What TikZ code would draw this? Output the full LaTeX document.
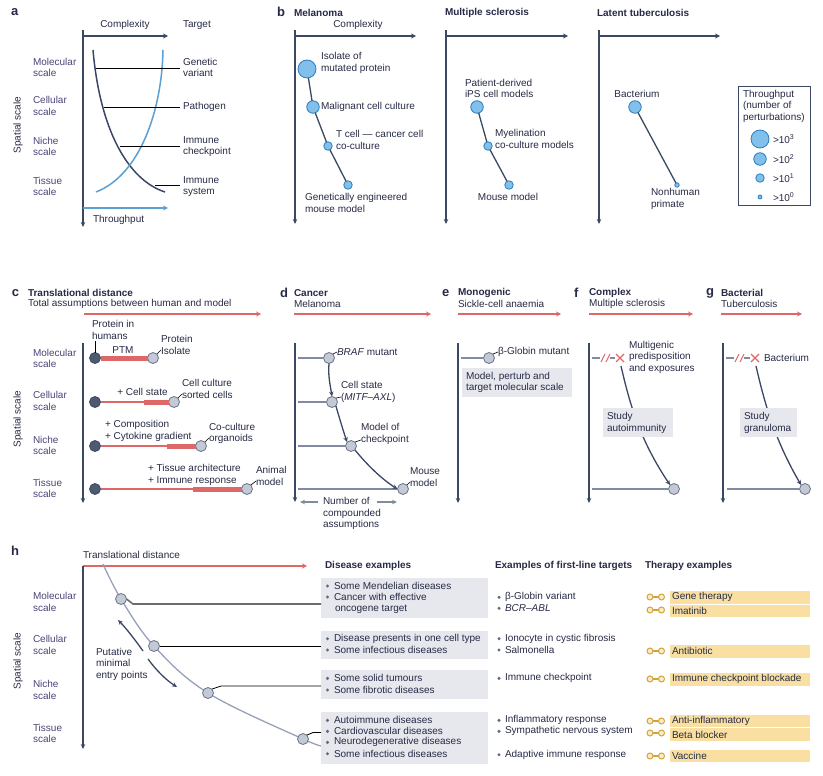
\documentclass[tikz,border=0pt]{standalone}
\usepackage{fontspec}
\setmainfont{Liberation Sans}
\usetikzlibrary{arrows.meta}
\definecolor{axc}{RGB}{58,72,100}
\definecolor{txc}{RGB}{38,42,68}
\definecolor{scc}{RGB}{78,66,120}
\definecolor{bluc}{RGB}{90,160,210}
\definecolor{bfill}{RGB}{130,192,236}
\definecolor{bdraw}{RGB}{45,125,190}
\definecolor{redc}{RGB}{222,104,104}
\definecolor{gfill}{RGB}{196,201,214}
\definecolor{gdraw}{RGB}{105,114,135}
\definecolor{dfill}{RGB}{78,90,112}
\definecolor{glc}{RGB}{128,138,160}
\definecolor{boxc}{RGB}{231,232,238}
\definecolor{yelc}{RGB}{249,224,162}
\definecolor{goldc}{RGB}{210,165,60}
\definecolor{hcur}{RGB}{150,160,185}
\definecolor{bulc}{RGB}{100,105,125}
\begin{document}
\begin{tikzpicture}[x=1pt,y=-1pt,
  every node/.style={inner sep=0pt,outer sep=0pt,text=txc,font=\fontsize{10}{11.5}\selectfont},
  L/.style={anchor=west,align=left},
  C/.style={anchor=center,align=center},
  B/.style={font=\fontsize{10}{11.5}\selectfont\bfseries},
  P/.style={font=\fontsize{13}{13}\selectfont\bfseries,anchor=west},
  S/.style={L,text=scc},
  vaxis/.style={draw=axc,line width=2.2pt,-{Stealth[length=5pt,width=4.5pt]}},
  harr/.style={draw=axc,line width=1.8pt,-{Stealth[length=5pt,width=5pt]}},
  rarr/.style={draw=redc,line width=1.5pt,-{Stealth[length=5pt,width=5pt]}},
  bdot/.style={circle,fill=bfill,draw=bdraw,line width=0.8pt},
  gdot/.style={circle,fill=gfill,draw=gdraw,line width=0.8pt,minimum size=11pt},
  ddot/.style={circle,fill=dfill,draw=axc,line width=0.8pt,minimum size=11pt},
  gline/.style={draw=glc,line width=1.6pt},
  darr/.style={draw=axc,line width=1.3pt,-{Stealth[length=5pt,width=4.5pt]}},
  garr/.style={draw=glc,line width=1.3pt,-{Stealth[length=5pt,width=4.5pt]}},
  ldr/.style={draw=black,line width=0.6pt},
  cline/.style={draw=axc,line width=1.3pt},
  thinred/.style={draw=redc,line width=1.3pt},
  thickred/.style={draw=redc,line width=5pt},
  tbox/.style={fill=boxc,draw=none},
  ybox/.style={fill=yelc,draw=none},
  icon/.style={circle,draw=goldc,fill=yelc!60,line width=1pt,minimum size=6pt},
]
\useasboundingbox (0,0) rectangle (823,776);

% ================= Panel a =================
\node[P] (pa) at (11,12) {a};
\draw[vaxis] (83,30) -- (83,227);
\draw[harr] (83,36) -- (168,36);
\draw[harr,draw=bluc] (83,208) -- (168,208);
\node[C] (acx) at (125,25) {Complexity};
\node[L] (atg) at (183,25) {Target};
\node[L] (ath) at (93,220) {Throughput};
\node[S] (am) at (33,67.5) {Molecular\\scale};
\node[S] (ac) at (33,106) {Cellular\\scale};
\node[S] (an) at (33,146.5) {Niche\\scale};
\node[S] (ati) at (33,186.5) {Tissue\\scale};
\node[rotate=90] (asp) at (18,125) {Spatial scale};
\draw[line width=1.5pt,draw=axc] (93,50) .. controls (100,130) and (128,180) .. (165,192);
\draw[line width=1.5pt,draw=bluc] (96,192) .. controls (140,175) and (162,110) .. (163,50);
\node[L] (agv) at (183,67.5) {Genetic\\variant};
\node[L] (apa) at (183,107) {Pathogen};
\node[L] (aic) at (183,146.5) {Immune\\checkpoint};
\node[L] (ais) at (183,186.5) {Immune\\system};
\draw[ldr,line width=0.8pt] (96,68) -- (180,68);
\draw[ldr,line width=0.8pt] (104,107) -- (180,107);
\draw[ldr,line width=0.8pt] (120,146) -- (180,146);
\draw[ldr,line width=0.8pt] (155,185) -- (180,185);

% ================= Panel b =================
\node[P] (pb) at (277,12) {b};
\node[L,B] (bmel) at (294,13) {Melanoma};
\node[C] (bcx) at (358,25) {Complexity};
\draw[vaxis] (295,30) -- (295,224);
\draw[harr] (295,36) -- (416,36);
\node[bdot,minimum size=18pt] (b1) at (307,69) {};
\node[bdot,minimum size=12.5pt] (b2) at (313,107) {};
\node[bdot,minimum size=8.5pt] (b3) at (328,146) {};
\node[bdot,minimum size=8.5pt] (b4) at (348,185) {};
\draw[cline] (b1) -- (b2) -- (b3) -- (b4);
\node[L] (b1t) at (321,63) {Isolate of\\mutated protein};
\node[L] (b2t) at (321,107) {Malignant cell culture};
\node[L] (b3t) at (336,140) {T cell — cancer cell\\co-culture};
\node[L] (b4t) at (305,203) {Genetically engineered\\mouse model};

\node[L,B] (bms) at (445,13) {Multiple sclerosis};
\draw[vaxis] (446,30) -- (446,224);
\draw[harr] (446,36) -- (568,36);
\node[bdot,minimum size=12.5pt] (m1) at (477,107) {};
\node[bdot,minimum size=8.5pt] (m2) at (488,146) {};
\node[bdot,minimum size=8.5pt] (m3) at (509,185) {};
\draw[cline] (m1) -- (m2) -- (m3);
\node[L] (m1t) at (465,88.5) {Patient-derived\\iPS cell models};
\node[L] (m2t) at (495,139) {Myelination\\co-culture models};
\node[C] (m3t) at (508,197) {Mouse model};

\node[L,B] (btb) at (597,13) {Latent tuberculosis};
\draw[vaxis] (599,30) -- (599,224);
\draw[harr] (599,36) -- (720,36);
\node[bdot,minimum size=12.5pt] (t1) at (635,107) {};
\node[bdot,minimum size=4.5pt] (t2) at (677,185) {};
\draw[cline] (t1) -- (t2);
\node[C] (t1t) at (637,94) {Bacterium};
\node[L] (t2t) at (651,199) {Nonhuman\\primate};

\node[draw=axc,line width=0.9pt,minimum width=72pt,minimum height=119pt,anchor=north west] (leg) at (738,86) {};
\node[L] (legt) at (743,106) {Throughput\\(number of\\perturbations)};
\node[bdot,minimum size=18pt] (l3) at (760,139) {};
\node[bdot,minimum size=12.5pt] (l2) at (760,159) {};
\node[bdot,minimum size=8.5pt] (l1) at (760,178) {};
\node[bdot,minimum size=4pt] (l0) at (760,197) {};
\node[L] (l3t) at (773,139) {>10\textsuperscript{3}};
\node[L] (l2t) at (773,159) {>10\textsuperscript{2}};
\node[L] (l1t) at (773,178) {>10\textsuperscript{1}};
\node[L] (l0t) at (773,197) {>10\textsuperscript{0}};

% ================= Panel c =================
\node[P] (pc) at (12,293) {c};
\node[L,B] (ctd) at (28,293) {Translational distance};
\node[L] (cta) at (28,304) {Total assumptions between human and model};
\draw[rarr] (84,314) -- (261,314);
\draw[vaxis] (83,343) -- (83,503);
\node[S] (cm) at (33,358.5) {Molecular\\scale};
\node[S] (cc) at (33,401) {Cellular\\scale};
\node[S] (cn) at (33,445.5) {Niche\\scale};
\node[S] (cti) at (33,488.5) {Tissue\\scale};
\node[rotate=90] (csp) at (18,419) {Spatial scale};
% row 1
\node[ddot] (c1a) at (95,358) {};
\node[gdot] (c1b) at (153,358) {};
\draw[thickred] (c1a.east) -- (c1b.west);
\node[C] (c1p) at (123,350.5) {PTM};
\node[L] (c1h) at (92,330) {Protein in\\humans};
\draw[ldr] (c1a.north) -- (95,341);
\node[L] (c1i) at (161,345) {Protein\\Isolate};
\draw[ldr] (c1b.north east) -- (161,350);
% row 2
\node[ddot] (c2a) at (95,402) {};
\node[gdot] (c2b) at (174,402) {};
\draw[thinred] (c2a.east) -- (144,402);
\draw[thickred] (144,402) -- (c2b.west);
\node[C] (c2p) at (142.5,392) {+ Cell state};
\node[L] (c2i) at (182,389) {Cell culture\\sorted cells};
\draw[ldr] (c2b.north east) -- (182,394);
% row 3
\node[ddot] (c3a) at (95,446) {};
\node[gdot] (c3b) at (201,446) {};
\draw[thinred] (c3a.east) -- (167,446);
\draw[thickred] (167,446) -- (c3b.west);
\node[L] (c3p) at (105,431) {+ Composition\\+ Cytokine gradient};
\node[L] (c3i) at (209,433.5) {Co-culture\\organoids};
\draw[ldr] (c3b.north east) -- (209,438);
% row 4
\node[ddot] (c4a) at (95,489) {};
\node[gdot] (c4b) at (247,489) {};
\draw[thinred] (c4a.east) -- (193,489);
\draw[thickred] (193,489) -- (c4b.west);
\node[L] (c4p) at (148,475) {+ Tissue architecture\\+ Immune response};
\node[L] (c4i) at (256,476) {Animal\\model};
\draw[ldr] (c4b.north east) -- (256,481);

% ================= Panel d =================
\node[P] (pd) at (280,293) {d};
\node[L,B] (dca) at (294,293) {Cancer};
\node[L] (dme) at (294,304) {Melanoma};
\draw[rarr] (294,314) -- (431,314);
\draw[vaxis] (295,343) -- (295,502);
\node[gdot] (d1) at (329,358) {};
\node[gdot] (d2) at (332,402) {};
\node[gdot] (d3) at (351,446) {};
\node[gdot] (d4) at (403,489) {};
\draw[gline] (298,358) -- (d1.west);
\draw[gline] (298,402) -- (d2.west);
\draw[gline] (298,446) -- (d3.west);
\draw[gline] (298,489) -- (d4.west);
\node[L] (d1t) at (337,352) {\textit{BRAF} mutant};
\node[L] (d2t) at (341,392) {Cell state\\(\textit{MITF–AXL})};
\node[L] (d3t) at (361,434) {Model of\\checkpoint};
\node[L] (d4t) at (410,477) {Mouse\\model};
\draw[ldr] (d1.north east) -- (337,352);
\draw[ldr] (d2.north east) -- (341,397);
\draw[ldr] (d3.north east) -- (361,440);
\draw[ldr] (d4.north east) -- (410,482);
\draw[darr] (d1.south) .. controls (328,376) and (330,384) .. (d2.north);
\draw[darr] (d2.south east) .. controls (340,420) and (343,430) .. (d3.north west);
\draw[darr] (d3.south east) .. controls (368,466) and (383,480) .. (d4.west);
\node[L] (dnum) at (323,513.5) {Number of\\compounded\\assumptions};
\coordinate (dl0) at (318,502);
\coordinate (dl1) at (300,502);
\coordinate (dr0) at (377,502);
\coordinate (dr1) at (397,502);
\draw[garr] (dl0) -- (dl1);
\draw[garr] (dr0) -- (dr1);

% ================= Panel e =================
\node[P] (pe) at (442,293) {e};
\node[L,B] (emo) at (458,293) {Monogenic};
\node[L] (esc) at (458,304) {Sickle-cell anaemia};
\draw[rarr] (458,314) -- (561,314);
\draw[vaxis] (458,343) -- (458,503);
\node[gdot] (e1) at (489,358) {};
\draw[gline] (461,358) -- (e1.west);
\node[L] (e1t) at (498,352) {β-Globin mutant};
\draw[ldr] (e1.north east) -- (498,352);
\node[tbox,minimum width=110pt,minimum height=29pt,anchor=north west] (ebox) at (462,368) {};
\node[L] (ebt) at (466,382.5) {Model, perturb and\\target molecular scale};

% ================= Panel f =================
\node[P] (pf) at (574,293) {f};
\node[L,B] (fco) at (589,293) {Complex};
\node[L] (fms) at (589,304) {Multiple sclerosis};
\draw[rarr] (589,314) -- (693,314);
\draw[vaxis] (589,343) -- (589,503);
\draw[gline] (592,358) -- (600,358);
\draw[redc,line width=1.1pt] (601,362) -- (605,354) (606,362) -- (610,354);
\draw[gline] (610,358) -- (615,358);
\draw[redc,line width=1.2pt] (616,354) -- (624,362) (616,362) -- (624,354);
\node[L] (fmt) at (629,357) {Multigenic\\predisposition\\and exposures};
\node[gdot] (f2) at (674,489) {};
\draw[gline] (592,489) -- (f2.west);
\draw[darr] (621,366) .. controls (630,405) and (640,440) .. (f2.north west);
\node[tbox,minimum width=70pt,minimum height=29pt,anchor=north west] (fbox) at (603,408) {};
\node[L] (fbt) at (607,423) {Study\\autoimmunity};

% ================= Panel g =================
\node[P] (pg) at (706,293) {g};
\node[L,B] (gba) at (721,293) {Bacterial};
\node[L] (gtb) at (721,304) {Tuberculosis};
\draw[rarr] (721,314) -- (802,314);
\draw[vaxis] (723,343) -- (723,503);
\draw[gline] (726,358) -- (734,358);
\draw[redc,line width=1.1pt] (735,362) -- (739,354) (740,362) -- (744,354);
\draw[gline] (744,358) -- (750,358);
\draw[redc,line width=1.2pt] (751,354) -- (759,362) (751,362) -- (759,354);
\node[L] (gbt) at (764,358) {Bacterium};
\node[gdot] (g2) at (805,489) {};
\draw[gline] (727,489) -- (g2.west);
\draw[darr] (756,366) .. controls (765,405) and (775,440) .. (g2.north west);
\node[tbox,minimum width=57pt,minimum height=29pt,anchor=north west] (gbox) at (740,408) {};
\node[L] (gbx) at (744,423) {Study\\granuloma};

% ================= Panel h =================
\node[P] (ph) at (11,551) {h};
\node[L] (htd) at (83,554.5) {Translational distance};
\draw[rarr] (83,566) -- (307,566);
\draw[vaxis] (83,566) -- (83,749);
\node[S] (hm) at (33,602) {Molecular\\scale};
\node[S] (hc) at (33,645) {Cellular\\scale};
\node[S] (hn) at (33,690) {Niche\\scale};
\node[S] (hti) at (33,733.5) {Tissue\\scale};
\node[rotate=90] (hsp) at (18,661) {Spatial scale};
\draw[hcur,line width=1.3pt] plot[smooth,tension=0.6] coordinates {(103,564) (121,599) (154,646) (208,693) (303,739) (323,746)};
% boxes
\node[tbox,minimum width=167pt,minimum height=40pt,anchor=north west] (hb1) at (321,578) {};
\node[tbox,minimum width=167pt,minimum height=28pt,anchor=north west] (hb2) at (321,631) {};
\node[tbox,minimum width=167pt,minimum height=29pt,anchor=north west] (hb3) at (321,670) {};
\node[tbox,minimum width=167pt,minimum height=52pt,anchor=north west] (hb4) at (321,712) {};
\node[gdot] (h1) at (121,599) {};
\node[gdot] (h2) at (154,646) {};
\node[gdot] (h3) at (208,693) {};
\node[gdot] (h4) at (303,739) {};
\draw[draw=gray!85!black,line width=1.6pt] (h1.east) -- (133,604) -- (321,604);
\draw[ldr,line width=0.8pt] (h2.east) -- (321,646);
\draw[ldr,line width=0.8pt] (h3.north east) -- (221,686) -- (321,686);
\draw[ldr,line width=0.8pt] (h4.north east) -- (313,732.5) -- (321,732.5);
\node[L] (hpu) at (96,664) {Putative\\minimal\\entry points};
\draw[darr] (143,651) .. controls (136,641) and (126,628) .. (118,620);
\draw[darr] (148,659) .. controls (156,670) and (166,680) .. (177,687);
% headers
\node[L,B] (hh1) at (325,566) {Disease examples};
\node[L,B] (hh2) at (495,566) {Examples of first-line targets};
\node[L,B] (hh3) at (645,566) {Therapy examples};
% disease text
\foreach \yy in {586,597,638.7,650,678.3,690,720.3,731.3,742.3,753.7} {\fill[bulc] (327.5,\yy) circle (1.7pt);}
\node[L] (hd1) at (334,586) {Some Mendelian diseases};
\node[L] (hd2) at (334,597.3) {Cancer with effective};
\node[L] (hd3) at (335,609.3) {oncogene target};
\node[L] (hd4) at (334,638.7) {Disease presents in one cell type};
\node[L] (hd5) at (334,650) {Some infectious diseases};
\node[L] (hd6) at (334,678.3) {Some solid tumours};
\node[L] (hd7) at (334,690) {Some fibrotic diseases};
\node[L] (hd8) at (334,720.3) {Autoimmune diseases};
\node[L] (hd9) at (334,731.3) {Cardiovascular diseases};
\node[L] (hd10) at (334,742.3) {Neurodegenerative diseases};
\node[L] (hd11) at (334,753.7) {Some infectious diseases};
% targets
\foreach \yy in {597.3,608.3,638.7,650,678.3,720.3,731.3,754.7} {\fill[bulc] (499,\yy) circle (1.7pt);}
\node[L] (ht1) at (505,597.3) {β-Globin variant};
\node[L] (ht2) at (505,608.3) {\textit{BCR–ABL}};
\node[L] (ht3) at (505,638.7) {Ionocyte in cystic fibrosis};
\node[L] (ht4) at (505,650) {Salmonella};
\node[L] (ht5) at (505,678.3) {Immune checkpoint};
\node[L] (ht6) at (505,720.3) {Inflammatory response};
\node[L] (ht7) at (505,731.3) {Sympathetic nervous system};
\node[L] (ht8) at (505,754.7) {Adaptive immune response};
% therapies
\node[ybox,minimum width=140pt,minimum height=12.5pt,anchor=north west] (y1) at (670,591) {};
\node[ybox,minimum width=140pt,minimum height=12pt,anchor=north west] (y2) at (670,605) {};
\node[ybox,minimum width=140pt,minimum height=12.5pt,anchor=north west] (y3) at (670,645) {};
\node[ybox,minimum width=140pt,minimum height=12.5pt,anchor=north west] (y4) at (670,673) {};
\node[ybox,minimum width=140pt,minimum height=12pt,anchor=north west] (y5) at (670,715) {};
\node[ybox,minimum width=140pt,minimum height=13pt,anchor=north west] (y6) at (670,728) {};
\node[ybox,minimum width=140pt,minimum height=12pt,anchor=north west] (y7) at (670,750) {};
\node[L] (hy1) at (672,597) {Gene therapy};
\node[L] (hy2) at (672,611) {Imatinib};
\node[L] (hy3) at (672,651) {Antibiotic};
\node[L] (hy4) at (672,679) {Immune checkpoint blockade};
\node[L] (hy5) at (672,721) {Anti-inflammatory};
\node[L] (hy6) at (672,734.5) {Beta blocker};
\node[L] (hy7) at (672,756) {Vaccine};
\foreach \yy/\nn in {597/1,610/2,651/3,679/4,721/5,733/6,756/7} {
  \node[icon] (ia\nn) at (650,\yy) {};
  \node[icon] (ib\nn) at (661.5,\yy) {};
  \draw[goldc,line width=1.2pt] (ia\nn.east) -- (ib\nn.west);
}
\end{tikzpicture}
\end{document}
